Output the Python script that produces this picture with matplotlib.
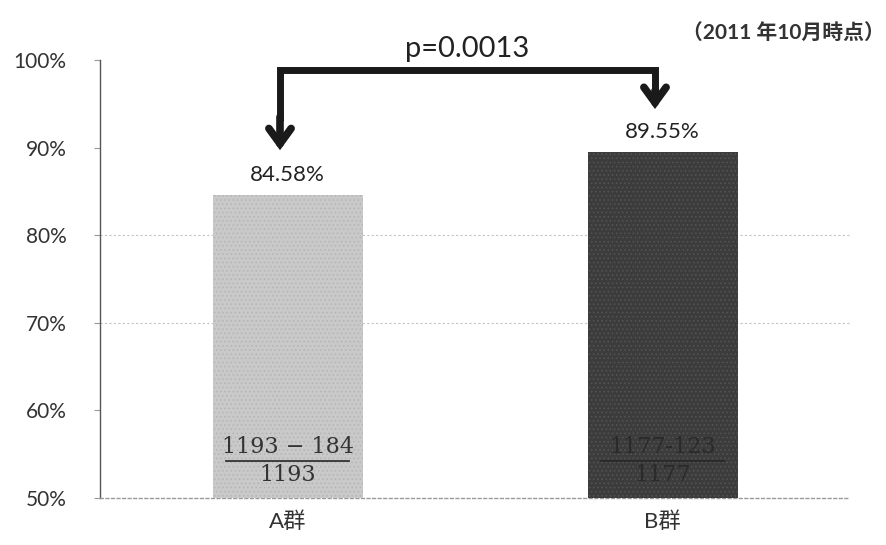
import numpy as np
import matplotlib
matplotlib.use("Agg")
import matplotlib.pyplot as plt

plt.rcParams['font.family'] = ['Lato', 'Noto Sans CJK JP', 'DejaVu Sans']

# group rates (fraction of patients), with the counts behind them
groups = ["A群", "B群"]
totals = [1193, 1177]
events = [184, 123]
rates = [0.8458, 0.8955]
rate_labels = ["84.58%", "89.55%"]
p_label = "p=0.0013"
date_note = "（2011 年10月時点）"
yticks = [0.5, 0.6, 0.7, 0.8, 0.9, 1.0]
grid_levels = [0.7, 0.8]
bar_colors = ["#c9c9c9", "#3c3c3c"]
hatch_colors = ["#b4b4b4", "#555555"]
frac_colors = ["#333333", "#2a2a2a"]

fig = plt.figure(figsize=(8.87, 5.45), dpi=100)
ax = fig.add_axes([100/887, 47/545, 750/887, 438/545])

x = np.arange(len(groups))
for i in x:
    plt.rcParams['hatch.color'] = hatch_colors[i]
    plt.rcParams['hatch.linewidth'] = 0.6
    ax.bar(x[i], rates[i], width=0.4, bottom=0.0, color=bar_colors[i],
           hatch='....', edgecolor=hatch_colors[i], linewidth=0, zorder=3)

ax.set_xlim(-0.5, 1.5)
ax.set_ylim(0.5, 1.0)
ax.set_yticks(yticks)
ax.set_yticklabels(["%d%%" % round(v*100) for v in yticks], fontsize=15,
                   color="#333333")
ax.set_xticks(x)
ax.set_xticklabels(groups, fontsize=16, color="#333333")
ax.tick_params(axis='x', length=0, pad=10)
ax.tick_params(axis='y', length=4, width=0.8, color="#999999", pad=20)

for s in ["top", "right"]:
    ax.spines[s].set_visible(False)
ax.spines["left"].set_color("#555555")
ax.spines["left"].set_linewidth(1.0)
ax.spines["bottom"].set_color("#999999")
ax.spines["bottom"].set_linestyle((0, (2, 2)))
ax.spines["bottom"].set_linewidth(1.0)

for v in grid_levels:
    ax.axhline(v, color="#c4c4c4", lw=0.8, ls=(0, (2, 2)), zorder=1)

# value labels above each bar
for i in x:
    ax.text(x[i], rates[i] + 0.011, rate_labels[i], ha='center', va='bottom',
            fontsize=16, color="#222222", zorder=5)

# fraction written inside each bar
for i in x:
    num = "%d − %d" % (totals[i], events[i]) if i == 0 else "%d-%d" % (totals[i], events[i])
    ax.text(x[i], 0.546, num, ha='center', va='bottom', fontsize=16,
            family='DejaVu Serif', color=frac_colors[i], zorder=5)
    ax.plot([x[i] - 0.165, x[i] + 0.165], [0.5425, 0.5425], color=frac_colors[i],
            lw=1.3, zorder=5)
    ax.text(x[i], 0.5385, "%d" % totals[i], ha='center', va='top', fontsize=16,
            family='DejaVu Serif', color=frac_colors[i], zorder=5)

# significance bracket with arrows down to both bars
bx0, bx1, btop = x[0] - 0.02, x[1] - 0.02, 0.989
ax.plot([bx0, bx0, bx1, bx1], [0.93, btop, btop, 0.96], color="#1a1a1a",
        lw=5, solid_joinstyle='miter', solid_capstyle='butt', zorder=6)
for bx, y0, y1 in [(bx0, 0.935, 0.897), (bx1, 0.965, 0.944)]:
    ax.annotate("", xy=(bx, y1), xytext=(bx, y0),
                arrowprops=dict(arrowstyle="->,head_length=1.1,head_width=0.8",
                                lw=5.5, color="#1a1a1a", shrinkA=0, shrinkB=0,
                                joinstyle='miter'),
                zorder=6)
ax.text((x[0] + x[1]) / 2 - 0.02, 0.998, p_label, ha='center', va='bottom',
        fontsize=21, color="#222222")

fig.text(0.998, 0.922, date_note, ha='right', va='bottom', fontsize=15,
         weight='bold', color="#333333")

fig.savefig("out.png", dpi=100)
